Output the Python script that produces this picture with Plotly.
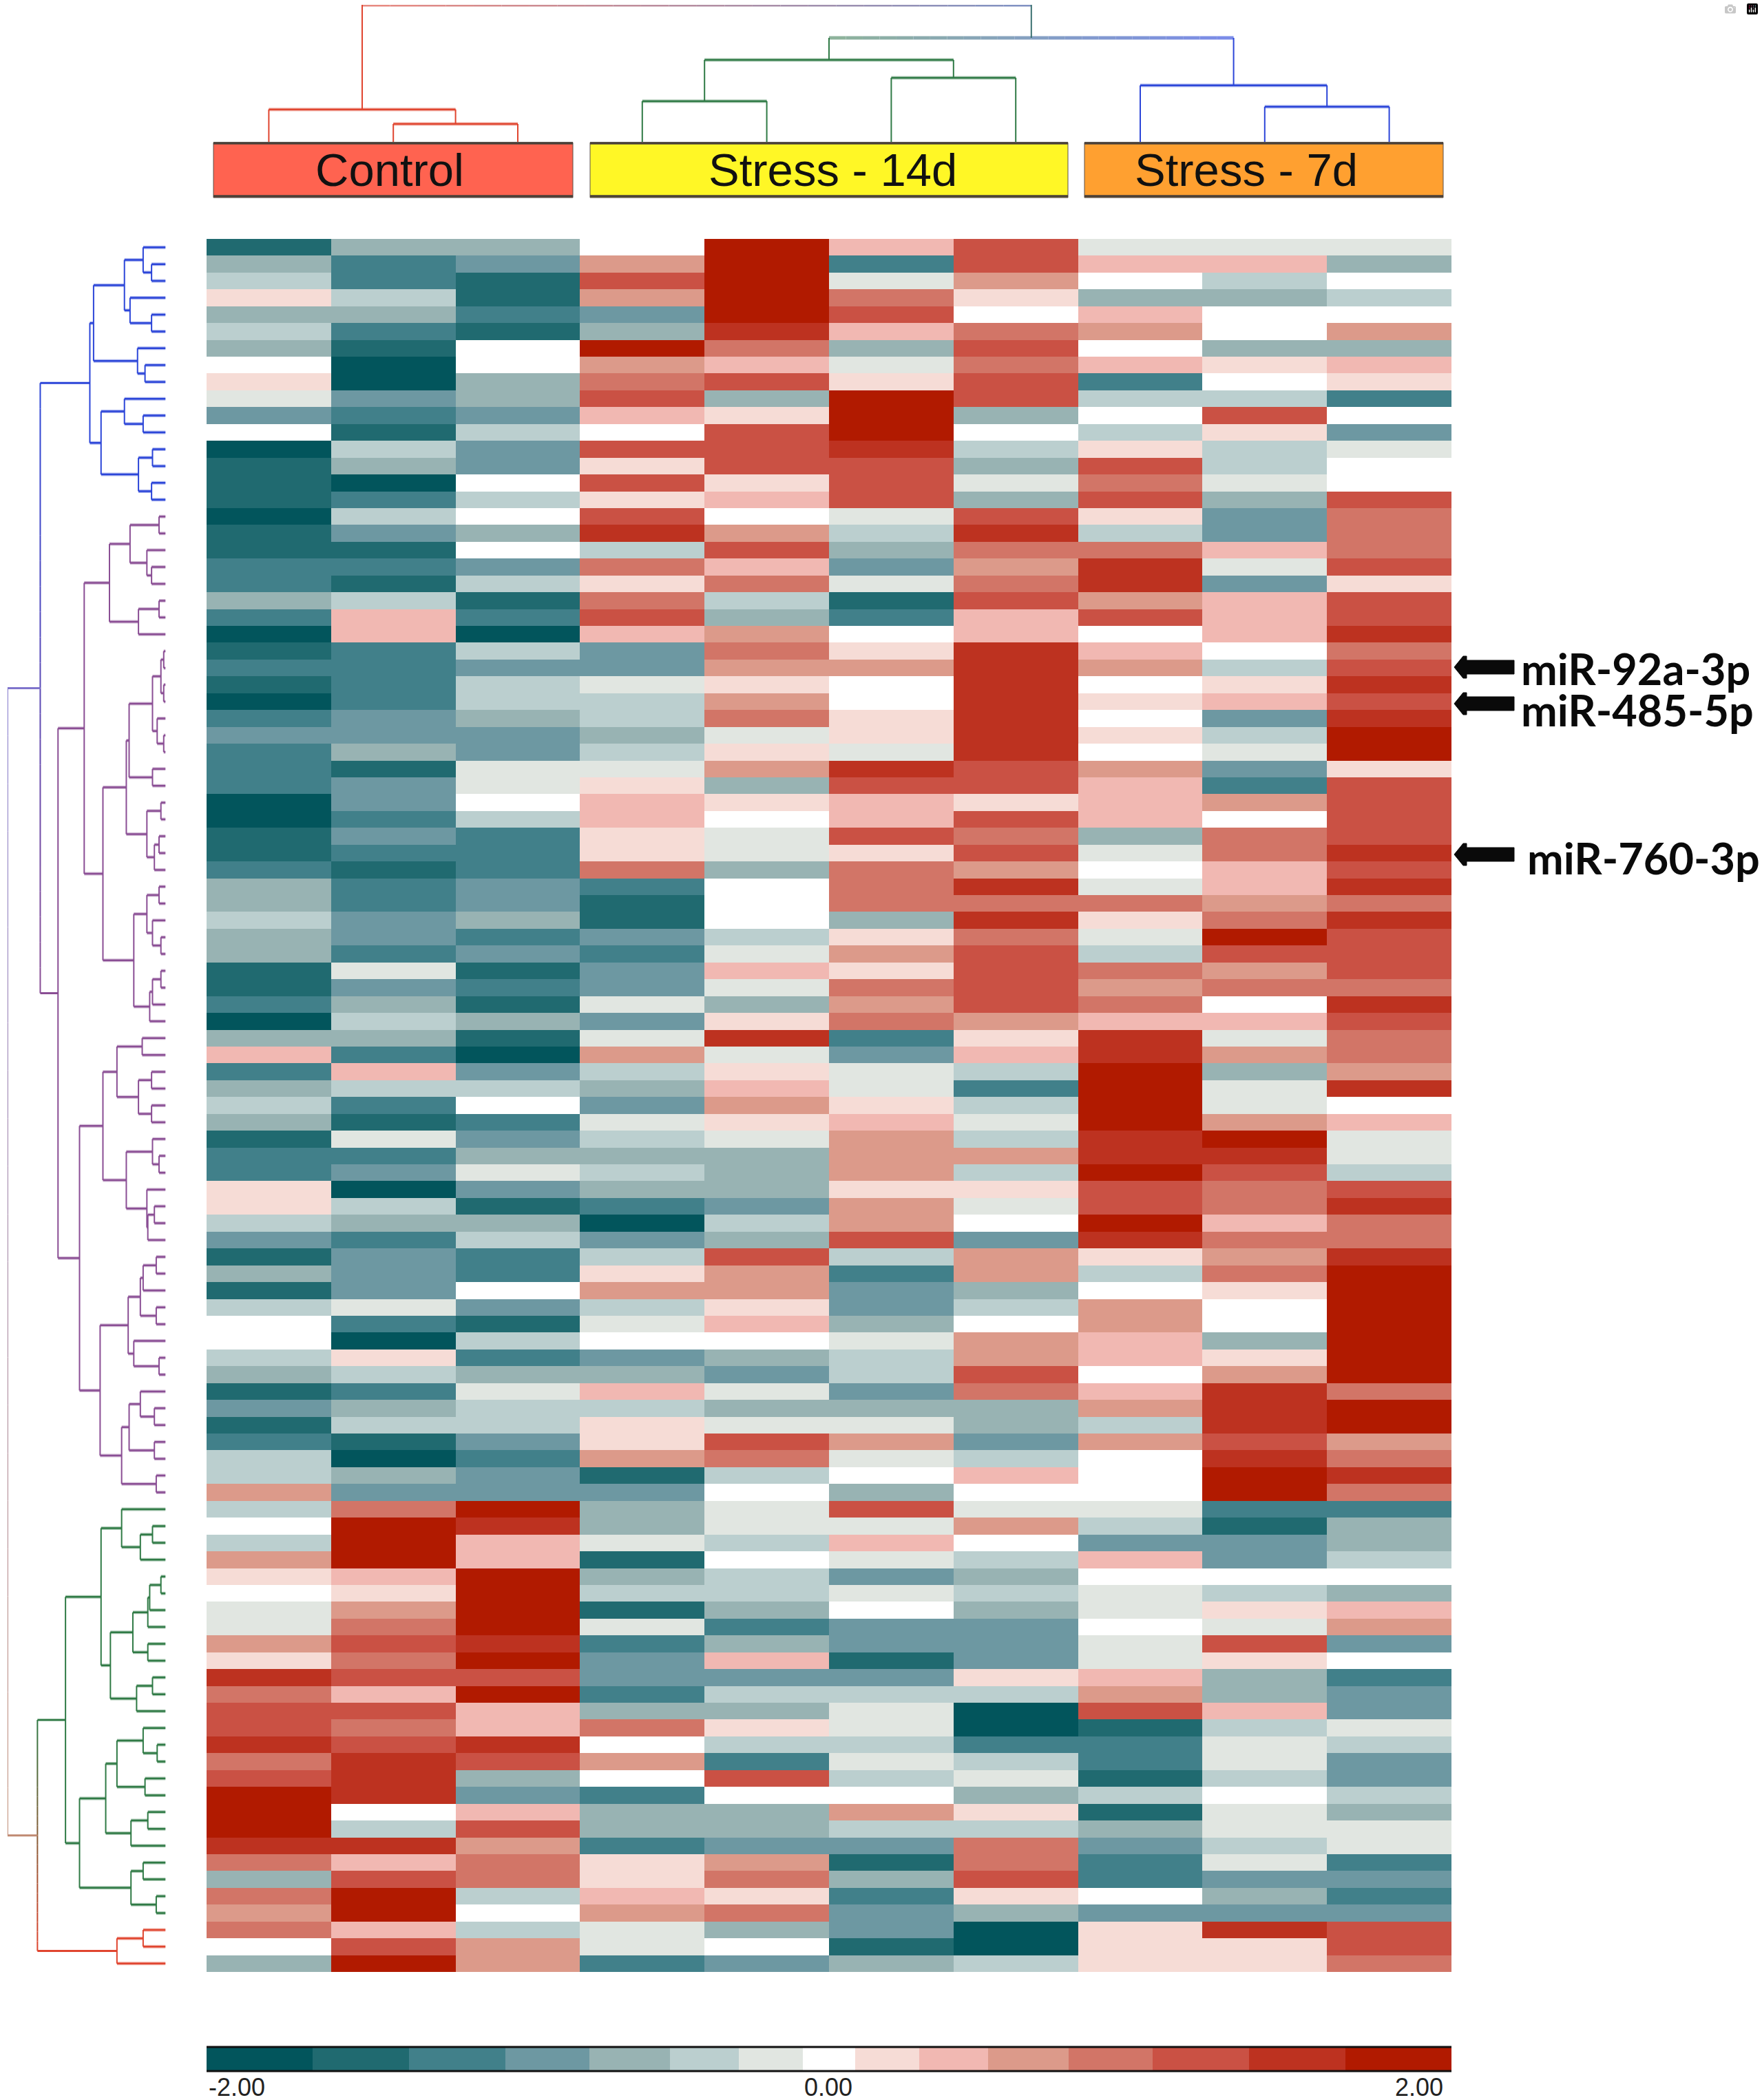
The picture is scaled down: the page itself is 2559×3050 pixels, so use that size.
import plotly.graph_objects as go

W, H = 2559, 3050

# colour levels, -7 (darkest teal, -2.00) .. 7 (darkest red, 2.00), one row per miRNA
control = [
    [-6,-3,-3],[-3,-5,-4],[-2,-5,-6],[1,-2,-6],[-3,-3,-5],[-2,-5,-6],[-3,-6,0],[0,-7,0],[1,-7,-3],[-1,-4,-3],
    [-4,-5,-4],[0,-6,-2],[-7,-2,-4],[-6,-3,-4],[-6,-7,0],[-6,-5,-2],[-7,-2,0],[-6,-4,-3],[-6,-6,0],[-5,-5,-4],
    [-5,-6,-2],[-3,-2,-6],[-5,2,-5],[-7,2,-7],[-6,-5,-2],[-5,-5,-4],[-6,-5,-2],[-7,-5,-2],[-5,-4,-3],[-4,-4,-4],
    [-5,-3,-4],[-5,-6,-1],[-5,-4,-1],[-7,-4,0],[-7,-5,-2],[-6,-4,-5],[-6,-5,-5],[-5,-6,-5],[-3,-5,-4],[-3,-5,-4],
    [-2,-4,-3],[-3,-4,-5],[-3,-5,-4],[-6,-1,-6],[-6,-4,-5],[-5,-3,-6],[-7,-2,-3],[-3,-3,-6],[2,-5,-7],[-5,2,-4],
    [-3,-2,-2],[-2,-5,0],[-3,-6,-5],[-6,-1,-4],[-5,-5,-3],[-5,-4,-1],[1,-7,-4],[1,-2,-6],[-2,-3,-3],[-4,-5,-2],
    [-6,-4,-5],[-3,-4,-5],[-6,-4,0],[-2,-1,-4],[0,-5,-6],[0,-7,-2],[-2,1,-5],[-3,-2,-3],[-6,-5,-1],[-4,-3,-2],
    [-6,-2,-2],[-5,-6,-4],[-2,-7,-5],[-2,-3,-4],[3,-4,-4],[-2,4,7],[0,7,6],[-2,7,2],[3,7,2],[1,2,7],
    [0,1,7],[-1,3,7],[-1,4,7],[3,5,6],[1,4,7],[6,5,5],[4,2,7],[5,5,2],[5,4,2],[6,5,6],
    [4,6,5],[5,6,-3],[7,6,-4],[7,0,2],[7,-2,5],[6,6,3],[4,2,4],[-3,5,4],[4,7,-2],[3,7,0],
    [4,2,-2],[0,5,3],[-3,7,3],
]
stress_14d = [
    [0,7,2,5],[3,7,-5,5],[5,7,-1,3],[3,7,4,1],[-4,7,5,0],[-3,6,2,4],[7,4,-3,5],[3,2,-1,4],[4,5,1,5],[5,-3,7,5],
    [2,1,7,-3],[0,5,7,0],[5,5,6,-2],[1,5,5,-3],[5,1,5,-1],[1,2,5,-3],[5,0,-1,5],[6,3,-2,6],[-2,5,-3,4],[4,2,-4,3],
    [1,4,-1,4],[4,-2,-6,5],[5,-3,-5,2],[2,3,0,2],[-4,4,1,6],[-4,3,3,6],[-1,1,0,6],[-2,3,0,6],[-2,4,1,6],[-3,-1,1,6],
    [-2,1,-1,6],[-1,3,6,5],[1,-3,5,5],[2,1,2,1],[2,0,2,5],[1,-1,5,4],[1,-1,1,5],[4,-3,4,3],[-5,0,4,6],[-6,0,4,4],
    [-6,0,-3,6],[-4,-2,1,4],[-5,-1,3,5],[-4,2,1,5],[-4,-1,4,5],[-1,-3,3,5],[-4,1,4,3],[-1,6,-5,1],[3,-1,-4,2],[-2,1,-1,-2],
    [-3,2,-1,-5],[-4,3,1,-2],[-1,1,2,-1],[-2,-1,3,-2],[-3,-3,3,3],[-2,-3,3,-2],[-3,-3,1,1],[-5,-4,3,-1],[-7,-2,3,0],[-4,-3,5,-4],
    [-2,5,-2,3],[1,3,-5,3],[3,3,-4,-3],[-2,1,-4,-2],[-1,2,-3,0],[0,0,-1,3],[-4,-3,-2,3],[-3,-4,-2,5],[2,-1,-4,4],[-2,-3,-3,-3],
    [1,-1,-1,-3],[1,5,3,-4],[3,4,-1,-2],[-6,-2,0,2],[-4,0,-3,0],[-3,-1,5,-1],[-3,-1,-1,3],[-1,-2,2,0],[-6,0,-1,-2],[-3,-2,-4,-3],
    [-2,-2,-1,-2],[-6,-3,0,-3],[-1,-5,-4,-4],[-5,-3,-4,-4],[-4,2,-6,-4],[-4,-4,-4,1],[-5,-2,-2,-2],[-3,-3,-1,-7],[4,1,-1,-7],[0,-2,-2,-5],
    [3,-5,-1,-2],[0,5,-2,-1],[-5,0,0,-3],[-3,-3,3,1],[-3,-3,-2,-2],[-5,-4,-4,4],[1,3,-6,4],[1,4,-3,5],[2,1,-5,1],[3,4,-4,-3],
    [-1,-3,-4,-7],[-1,0,-6,-7],[-5,-4,-3,-2],
]
stress_7d = [
    [-1,-1,-1],[2,2,-3],[0,-2,0],[-3,-3,-2],[2,0,0],[3,0,3],[0,-3,-3],[2,1,2],[-5,0,1],[-2,-2,-5],
    [0,5,0],[-2,1,-4],[1,-2,-1],[5,-2,0],[4,-1,0],[5,-3,5],[1,-4,4],[-2,-4,4],[4,2,4],[6,-1,5],
    [6,-4,1],[3,2,5],[5,2,5],[0,2,6],[2,0,4],[3,-2,5],[0,1,6],[1,2,5],[0,-4,6],[1,-2,7],
    [0,-1,7],[3,-4,1],[2,-5,5],[2,3,5],[2,0,5],[-3,4,5],[-1,4,6],[0,2,5],[-1,2,6],[4,3,4],
    [1,4,6],[-1,7,5],[-2,5,5],[4,3,5],[3,4,4],[4,0,6],[2,2,5],[6,-1,4],[6,3,4],[7,-3,3],
    [7,-1,6],[7,-1,0],[7,3,2],[6,7,-1],[6,6,-1],[7,5,-2],[5,4,5],[5,4,6],[7,2,4],[6,4,4],
    [1,3,6],[-2,4,7],[0,1,7],[3,0,7],[3,0,7],[2,-3,7],[2,1,7],[0,3,7],[2,6,4],[3,6,7],
    [-2,6,7],[3,5,3],[0,6,4],[0,7,6],[0,7,4],[-1,-5,-5],[-2,-6,-3],[-4,-4,-3],[2,-4,-2],[0,0,0],
    [-1,-2,-3],[-1,1,2],[0,-1,3],[-1,5,-4],[-1,1,0],[2,-3,-5],[3,-3,-4],[5,2,-4],[-6,-2,-1],[-5,-1,-2],
    [-5,-1,-4],[-6,-2,-4],[-2,0,-2],[-6,-1,-3],[-3,-1,-1],[-4,-2,-1],[-5,-1,-5],[-5,-4,-4],[0,-3,-5],[-4,-4,-4],
    [1,6,5],[1,1,5],[1,1,4],
]
palette = ["#02555C","#206A70","#41808A","#6D98A2","#98B3B3","#BBCFCF","#E1E6E1","#FFFFFF",
           "#F6DCD6","#F1B8B2","#DC9A8A","#D27567","#CA5144","#BD3220","#B11A00"]
legend_levels = list(range(-7, 8))
legend_edges = [-2,-1.66,-1.35,-1.04,-0.77,-0.51,-0.29,-0.085,0.085,0.29,0.51,0.77,1.04,1.35,1.66,2]
legend_ticks = ["-2.00", "0.00", "2.00"]

group_names = ["Control", "Stress - 14d", "Stress - 7d"]
group_fills = ["#FF6350", "#FFF726", "#FFA030"]
mirna_names = ["miR-92a-3p", "miR-485-5p", "miR-760-3p"]

# dendrograms: (merge distance, child, child), plain ints are leaves
col_control = (47, 0, (26, 1, 2))
col_14d = (119, (59, 3, 4), (93, 5, 6))
col_7d = (82, 7, (51, 8, 9))

row_blue = (81,
    (77, (44, (24, 0, (15, 1, 2)), (38, 3, (15, 4, 5))), (30, 6, (22, 7, 8))),
    (69, (44, 9, (24, 10, 11)), (29, (14, 12, 13), (15, 14, 15))))
row_purple = (115,
    (87,
        (60, (38, (7, 16, 17), (20, 18, (15, 19, 20))), (29, (7, 21, 22), 23)),
        (67,
            (42, (39, (14, (5, (2, 24, 25), (2, 26, 27)), (9, 28, (2, 29, 30))), (14, 31, 32)),
                 (20, (5, 33, 34), (12, (7, 35, 36), 37))),
            (34, (20, (7, 38, 39), (14, 40, (5, 41, 42))), (17, (14, (5, 43, 44), 45), 46)))),
    (92,
        (67,
            (52, (25, 47, 48), (29, (15, 49, 50), (15, 51, 52))),
            (42, (14, 53, (7, 54, 55)), (20, 56, (19, (12, 57, 58), 59)))),
        (70,
            (40, (27, (24, (10, 60, 61), 62), (10, 63, 64)), (34, 65, (7, 66, 67))),
            (47, (39, (27, 68, (12, 69, 70)), (12, 71, 72)), (10, 73, 74)))))
row_green = (107,
    (69, (47, 75, (27, (14, 76, 77), 78)),
         (59, (35, (19, (17, (5, 79, 80), 81), 82), (19, 83, 84)), (31, (14, 85, 86), 87))),
    (92, (64, (52, (24, 88, (9, 89, 90)), (22, 91, 92)), (37, (19, 93, 94), 95)),
         (37, (24, 96, 97), (10, 98, 99))))
row_red = (52, (24, 100, 101), 102)
row_joins = [134, 137, 169]
col_joins = [151, 199]


def fx(p):
    return p / W


def fy(p):
    return 1 - p / H


def walk(node, segs):
    if isinstance(node, int):
        return node, 0
    d, a, b = node
    pa, da = walk(a, segs)
    pb, db = walk(b, segs)
    segs.append((da, pa, d, pa))
    segs.append((db, pb, d, pb))
    segs.append((d, pa, d, pb))
    return (pa + pb) / 2, d


def mix(c1, c2, t):
    a = [int(c1[i:i+2], 16) for i in (1, 3, 5)]
    b = [int(c2[i:i+2], 16) for i in (1, 3, 5)]
    return "rgb(%d,%d,%d)" % tuple(a[i] + (b[i] - a[i]) * t for i in range(3))


fig = go.Figure()


def draw_lines(xs, ys, color, width, xa, ya):
    fig.add_trace(go.Scatter(x=xs, y=ys, mode="lines", xaxis=xa, yaxis=ya, hoverinfo="skip", showlegend=False,
                             line=dict(color=color, width=width)))


def draw_segs(segs, color, rowwise):
    # horizontal strokes are heavier than the vertical ones in the original
    thick_x, thick_y, thin_x, thin_y = [], [], [], []
    for d0, p0, d1, p1 in segs:
        if rowwise:
            x0, y0, x1, y1 = d0, p0, d1, p1
        else:
            x0, y0, x1, y1 = p0, d0, p1, d1
        if y0 == y1:
            thick_x += [x0, x1, None]
            thick_y += [y0, y1, None]
        else:
            thin_x += [x0, x1, None]
            thin_y += [y0, y1, None]
    xa, ya = ("x2", "y") if rowwise else ("x", "y2")
    draw_lines(thick_x, thick_y, mix(color, "#FFFFFF", 0.6), 5, xa, ya)
    draw_lines(thick_x, thick_y, color, 2.5, xa, ya)
    draw_lines(thin_x, thin_y, color, 2, xa, ya)


def draw_join(top, bottom, d, cols, stems, rowwise):
    # the joins between clusters fade from one cluster colour to the other
    p0, d0 = top
    p1, d1 = bottom
    xa, ya = ("x2", "y") if rowwise else ("x", "y2")
    n = 24
    for i in range(n):
        q0 = p0 + (p1 - p0) * i / n
        q1 = p0 + (p1 - p0) * (i + 1) / n
        col = mix(cols[0], cols[1], (i + 0.5) / n)
        if rowwise:
            draw_lines([d, d], [q0, q1], col, 2, xa, ya)
        else:
            draw_lines([q0, q1], [d, d], col, 5, xa, ya)
    if rowwise:
        draw_lines([d0, d], [p0, p0], stems[0], 3, xa, ya)
        draw_lines([d1, d], [p1, p1], stems[1], 3, xa, ya)
    else:
        draw_lines([p0, p0], [d0, d], stems[0], 2, xa, ya)
        draw_lines([p1, p1], [d1, d], stems[1], 2, xa, ya)
    return (p0 + p1) / 2, d


RED, GREEN, BLUE, PURPLE = "#E0452F", "#2F7A45", "#2B45D8", "#8A4E94"

cells = [control[i] + stress_14d[i] + stress_7d[i] for i in range(len(control))]
scale = []
for i, c in enumerate(palette):
    scale += [[i / 15, c], [(i + 1) / 15, c]]

fig.add_trace(go.Heatmap(z=cells, colorscale=scale, zmin=-7.5, zmax=7.5, showscale=False, xaxis="x", yaxis="y"))
fig.add_trace(go.Heatmap(z=[legend_levels], x=legend_edges, y=[0], colorscale=scale, zmin=-7.5, zmax=7.5,
                         showscale=False, xaxis="x3", yaxis="y3"))

# row tree
tops = {}
for name, tree, color in [("blue", row_blue, BLUE), ("purple", row_purple, PURPLE),
                          ("green", row_green, GREEN), ("red", row_red, RED)]:
    segs = []
    tops[name] = walk(tree, segs)
    draw_segs(segs, color, True)
upper = draw_join(tops["blue"], tops["purple"], row_joins[0], (BLUE, PURPLE), (BLUE, PURPLE), True)
lower = draw_join(tops["green"], tops["red"], row_joins[1], (GREEN, RED), (GREEN, RED), True)
draw_join(upper, lower, row_joins[2], ("#7F74CC", "#C08A72"), ("#7F74CC", "#C08A72"), True)

# column tree
tops = {}
for name, tree, color in [("c", col_control, RED), ("s14", col_14d, GREEN), ("s7", col_7d, BLUE)]:
    segs = []
    tops[name] = walk(tree, segs)
    draw_segs(segs, color, False)
stress = draw_join(tops["s14"], tops["s7"], col_joins[0], ("#8FB49B", "#7B8CEA"), (GREEN, BLUE), False)
draw_join(tops["c"], stress, col_joins[1], ("#EA8A80", "#7F93C4"), (RED, "#3A7070"), False)

shapes = []
annos = []
box_edges = [(310, 832), (857, 1551), (1575, 2096)]
text_centres = [566, 1209, 1810]
for (x0, x1), fill, name, tc in zip(box_edges, group_fills, group_names, text_centres):
    shapes.append(dict(type="rect", xref="paper", yref="paper", x0=fx(x0), x1=fx(x1), y0=fy(287), y1=fy(207),
                       fillcolor=fill, line=dict(color="#5A5048", width=1)))
    for yy in (208, 285):
        shapes.append(dict(type="line", xref="paper", yref="paper", x0=fx(x0), x1=fx(x1), y0=fy(yy), y1=fy(yy),
                           line=dict(color="#4A4038", width=3.5)))
    annos.append(dict(text=name, xref="paper", yref="paper", x=fx(tc), y=fy(247), showarrow=False,
                      xanchor="center", yanchor="middle", font=dict(family="Liberation Sans", size=67, color="#111111")))

# arrows next to the marked miRNAs
for cy in (969, 1022, 1241):
    pts = [(2199, cy - 10), (2130, cy - 10), (2130, cy - 16), (2125, cy - 16), (2112, cy), (2125, cy + 16),
           (2130, cy + 16), (2130, cy + 10), (2199, cy + 10)]
    path = "M " + " L ".join("%.5f,%.5f" % (fx(a), fy(b)) for a, b in pts) + " Z"
    shapes.append(dict(type="path", xref="paper", yref="paper", path=path, fillcolor="#0A0A0A",
                       line=dict(color="#0A0A0A", width=1)))
for name, tx, ty in zip(mirna_names, (2207, 2207, 2216), (970, 1030, 1245)):
    annos.append(dict(text=name, xref="paper", yref="paper", x=fx(tx), y=fy(ty), showarrow=False, xanchor="left",
                      yanchor="middle", font=dict(family="Lato", size=63, color="#0A0A0A", weight="bold")))

# legend rules and labels
for yy in (2973, 3008):
    shapes.append(dict(type="line", xref="paper", yref="paper", x0=fx(300), x1=fx(2108), y0=fy(yy), y1=fy(yy),
                       line=dict(color="#111111", width=3)))
for text, tx, anchor in zip(legend_ticks, (301, 1203, 2098), ("left", "center", "right")):
    annos.append(dict(text=text, xref="paper", yref="paper", x=fx(tx), y=fy(3031), showarrow=False, xanchor=anchor,
                      yanchor="middle", font=dict(family="Liberation Sans Narrow, Liberation Sans", size=36, color="#222222")))

hidden = dict(visible=False, fixedrange=True)
fig.update_layout(
    width=W, height=H, margin=dict(l=0, r=0, t=0, b=0), paper_bgcolor="white", plot_bgcolor="white",
    showlegend=False, shapes=shapes, annotations=annos,
    xaxis=dict(domain=[fx(300), fx(2108)], range=[-0.5, 9.5], anchor="y", **hidden),
    yaxis=dict(domain=[fy(2864), fy(347)], range=[102.5, -0.5], anchor="x", **hidden),
    xaxis2=dict(domain=[fx(10.9), fx(240.5)], range=[169, 0], anchor="y", **hidden),
    yaxis2=dict(domain=[fy(206), fy(7)], range=[0, 199], anchor="x", **hidden),
    xaxis3=dict(domain=[fx(300), fx(2108)], range=[-2, 2], anchor="y3", **hidden),
    yaxis3=dict(domain=[fy(3008), fy(2973)], range=[-0.5, 0.5], anchor="x3", **hidden),
)

# the page's default body margin would push the figure off by 8px
fig.write_html("out.html", post_script="document.body.style.margin='0';")
